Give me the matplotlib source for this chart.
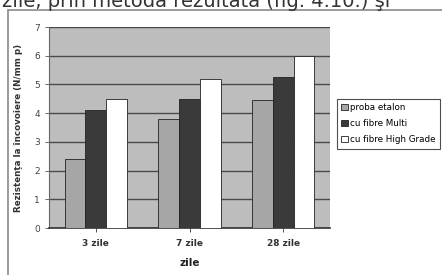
import numpy as np
import matplotlib
matplotlib.use('Agg')
import matplotlib.pyplot as plt
from matplotlib.patches import Rectangle, Patch

# valori
categorii = ['3 zile', '7 zile', '28 zile']
proba_etalon = [2.4, 3.8, 4.45]
fibre_multi = [4.1, 4.5, 5.25]
fibre_high_grade = [4.5, 5.2, 6.0]
serii = ['proba etalon', 'cu fibre Multi', 'cu fibre High Grade']

culori = ['#a6a6a6', '#3a3a3a', '#ffffff']

fig = plt.figure(figsize=(4.42, 2.75), dpi=100)
fig.patch.set_facecolor('white')

# textul de deasupra (taiat in scan)
fig.text(0.005, 0.995, 'zile, prin metoda rezultată (fig. 4.10.) şi', fontsize=14,
         color='#333333', va='center', ha='left')

# chenarul graficului
fig.add_artist(Rectangle((8 / 442, -0.02), 1.0, 1 - 10 / 275 + 0.02,
                         transform=fig.transFigure, fill=False,
                         edgecolor='#8a8a8a', linewidth=1.2))

ax = fig.add_axes([49 / 442, 1 - 228 / 275, 281 / 442, 201 / 275])
ax.set_facecolor('#bdbdbd')

x = np.arange(len(categorii))
w = 1 / 4.5
for i, (vals, c, s) in enumerate(zip([proba_etalon, fibre_multi, fibre_high_grade], culori, serii)):
    ax.bar(x + (i - 1) * w, vals, width=w, color=c, edgecolor='#222222',
           linewidth=0.6, label=s, zorder=3)

ax.set_xlim(-0.5, 2.5)
ax.set_ylim(0, 7)
ax.set_yticks(range(0, 8))
ax.yaxis.grid(True, color='#4a4a4a', linewidth=1.0, zorder=1)
ax.set_axisbelow(True)
ax.set_xticks(x)
ax.set_xticklabels(categorii, fontsize=6.5, fontweight='bold', color='#333333')
ax.tick_params(axis='y', labelsize=6.5, colors='#555555', length=3, width=0.6)
ax.tick_params(axis='x', length=3, width=0.6, colors='#333333', pad=5)
for lbl in ax.get_yticklabels():
    lbl.set_color('#444444')
for sp in ['top', 'right']:
    ax.spines[sp].set_visible(False)
ax.spines['left'].set_color('#666666')
ax.spines['bottom'].set_color('#333333')
ax.spines['bottom'].set_linewidth(1.2)

ax.set_xlabel('zile', fontsize=7.5, fontweight='bold', color='#222222', labelpad=7)
ax.set_ylabel('Rezistenţa la încovoiere (N/mm p)', fontsize=6.3, fontweight='bold',
              color='#333333', labelpad=8)

handles = [Patch(facecolor=c, edgecolor='#222222', linewidth=0.6, label=s)
           for c, s in zip(culori, serii)]
leg = fig.legend(handles=handles, loc='upper left',
                 bbox_to_anchor=(337 / 442, 1 - 99 / 275), fontsize=6.3,
                 frameon=True, fancybox=False, handlelength=0.7, handleheight=0.7,
                 handletextpad=0.3, borderpad=0.5, labelspacing=0.8,
                 borderaxespad=0)
leg.get_frame().set_edgecolor('#222222')
leg.get_frame().set_linewidth(0.8)

fig.savefig('out.png', dpi=100)
